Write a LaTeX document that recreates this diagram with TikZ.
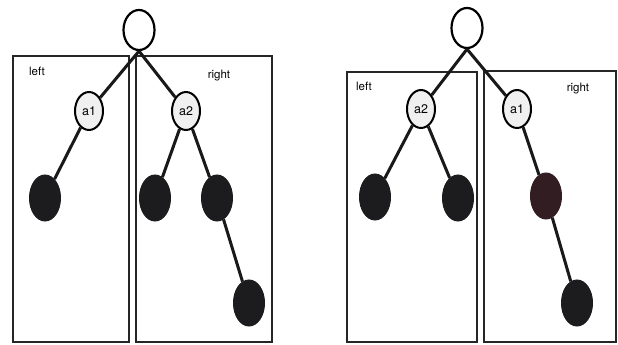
\documentclass[tikz,border=0pt]{standalone}
\usepackage{fontspec}
\setmainfont{TeX Gyre Heros}
\usetikzlibrary{shapes.geometric}
\definecolor{leafc}{RGB}{28,28,30}
\definecolor{leafm}{RGB}{50,30,34}
\begin{document}
\begin{tikzpicture}[x=1pt,y=-1pt,
  edge/.style={line width=3pt,black!90},
  frame/.style={draw,line width=2pt,black!85},
  rootnode/.style={ellipse,draw,line width=2.2pt,fill=white,minimum width=31pt,minimum height=40pt,inner sep=0pt},
  anode/.style={ellipse,draw,line width=2pt,fill=black!6,minimum width=28pt,minimum height=38pt,inner sep=0pt,font=\fontsize{12.5}{12.5}\selectfont},
  leaf/.style={ellipse,draw=leafc,line width=1pt,fill=leafc,minimum width=31pt,minimum height=46pt,inner sep=0pt},
  lbl/.style={font=\fontsize{11.5}{11.5}\selectfont,inner sep=0pt}]
\useasboundingbox (0,0) rectangle (618,345);
\fill[white] (0,0) rectangle (618,345);
% ---- left figure ----
\draw[frame] (13,56) rectangle (129,342);
\draw[frame] (136,56) rectangle (272,342);
\node[lbl] (L1) at (37,71) {left};
\node[lbl] (R1) at (219,76) {right};
\node[rootnode] (r1) at (139,30) {};
\node[anode] (a1) at (89,111) {a1};
\node[anode] (a2) at (186,111) {a2};
\node[leaf] (b1) at (45,198) {};
\node[leaf] (b2) at (155,198) {};
\node[leaf] (b3) at (217,198) {};
\node[leaf] (b4) at (249,303) {};
\draw[edge] (r1.south) -- (a1);
\draw[edge] (r1.south) -- (a2);
\draw[edge] (a1) -- (b1);
\draw[edge] (a2) -- (b2);
\draw[edge] (a2) -- (b3);
\draw[edge] (b3) -- (b4);
% ---- right figure ----
\draw[frame] (347,72) rectangle (477,342);
\draw[frame] (484,71) rectangle (616,342);
\node[lbl] (L2) at (364,86) {left};
\node[lbl] (R2) at (578,89) {right};
\node[rootnode] (r2) at (467,28) {};
\node[anode] (c2) at (421,109) {a2};
\node[anode] (c1) at (517,109) {a1};
\node[leaf] (d1) at (375,197) {};
\node[leaf] (d2) at (458,198) {};
\node[leaf,draw=leafm,fill=leafm] (d3) at (546,196) {};
\node[leaf] (d4) at (577,303) {};
\draw[edge] (r2.south) -- (c2);
\draw[edge] (r2.south) -- (c1);
\draw[edge] (c2) -- (d1);
\draw[edge] (c2) -- (d2);
\draw[edge] (c1) -- (d3);
\draw[edge] (d3) -- (d4);
\end{tikzpicture}
\end{document}
